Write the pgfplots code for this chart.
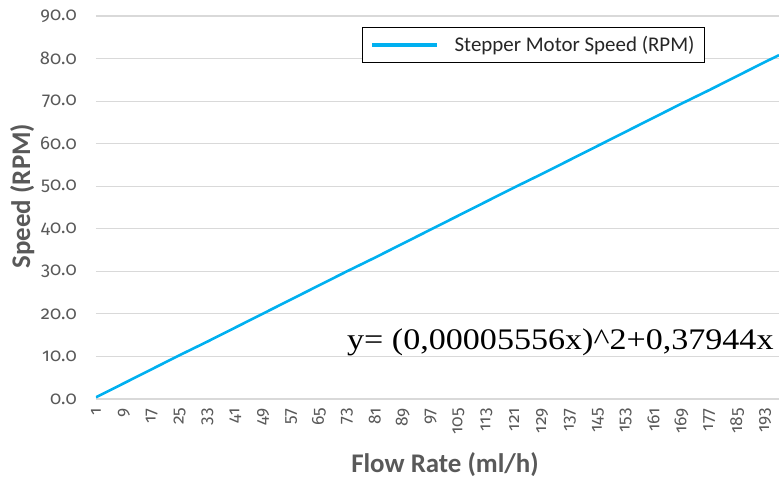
\documentclass[border=0pt]{standalone}
\usepackage{fontspec}
\setmainfont{Carlito}
\newfontfamily\numfont{Fira Sans}[Numbers=OldStyle]
\newfontfamily\eqfont{Liberation Serif}
\usepackage{pgfplots}
\pgfplotsset{compat=1.18}
\definecolor{linecol}{HTML}{00B0F0}
\definecolor{gridcol}{HTML}{D9D9D9}
\definecolor{labcol}{HTML}{595959}
\definecolor{legtext}{HTML}{262626}
\begin{document}
\begin{tikzpicture}
\begin{axis}[
  at={(0,0)}, anchor=south west,
  scale only axis, width=683bp, height=383bp,
  xmin=1, xmax=197, ymin=0, ymax=90,
  xtick={1,9,...,193},
  ytick={0,10,...,90},
  axis line style={draw=none},
  major tick length=0pt,
  ymajorgrids, grid style={gridcol, line width=1.1bp},
  /pgf/number format/assume math mode=true,
  yticklabel={\pgfmathprintnumber[fixed,fixed zerofill,precision=1]{\tick}},
  xticklabel={\pgfmathprintnumber[int detect]{\tick}},
  yticklabel style={font=\numfont\fontsize{18.5}{22}\selectfont, text=labcol, inner sep=0pt, anchor=east, xshift=-19bp},
  xticklabel style={font=\numfont\fontsize{17.5}{20}\selectfont, text=labcol, inner sep=0pt, yshift=-9bp, rotate=90, anchor=east},
  xlabel={Flow Rate (ml/h)},
  ylabel={Speed (RPM)},
  xlabel style={font=\fontsize{27}{29}\selectfont\bfseries, text=labcol, at={(axis description cs:0.511,-0.172)}, anchor=center},
  ylabel style={font=\fontsize{27}{29}\selectfont\bfseries, text=labcol, at={(axis description cs:-0.108,0.53)}, anchor=center, rotate=0},
  legend style={at={(rel axis cs:0.389,0.971)}, anchor=north west, draw=black, line width=0.9bp,
    font=\fontsize{21}{24}\selectfont, text=legtext, inner xsep=8bp, inner ysep=7bp},
  legend cell align=left,
  legend image code/.code={\draw[linecol, line width=4.5bp] (0bp,0bp) -- (65bp,0bp);},
]
\addplot[linecol, line width=2.6bp] coordinates {
(1,0.4) (9,3.7) (17,7.0) (25,10.3) (33,13.5) (41,16.8) (49,20.1) (57,23.4)
(65,26.7) (73,30.0) (81,33.2) (89,36.5) (97,39.8) (105,43.1) (113,46.4)
(121,49.7) (129,52.9) (137,56.2) (145,59.5) (153,62.8) (161,66.1) (169,69.4)
(177,72.6) (185,75.9) (193,79.2) (197,80.8)
};
\addlegendentry{\hspace{13bp}Stepper Motor Speed (RPM)\hspace{18bp}}
\node[anchor=base west, inner sep=0pt, font=\eqfont\fontsize{30}{32}\selectfont] at (rel axis cs:0.3675,0.128) {\scalebox{1.14}[1]{y= (0,00005556x)\^{}2+0,37944x}};
\end{axis}
\pgfresetboundingbox
\path[use as bounding box] (-96bp,-79bp) rectangle (683bp,399bp);
\end{tikzpicture}
\end{document}
